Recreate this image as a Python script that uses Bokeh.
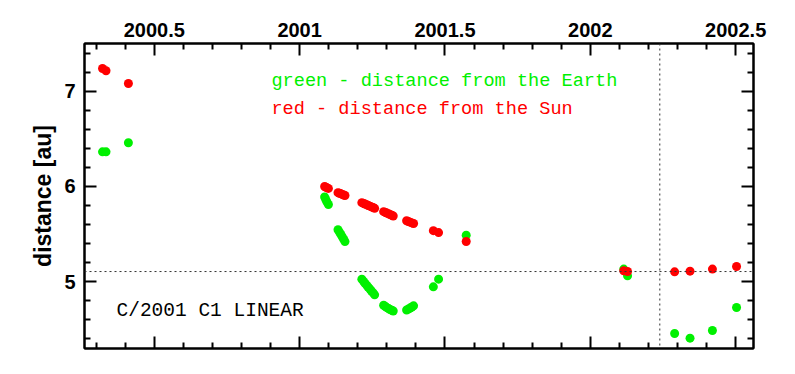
from bokeh.plotting import figure
from bokeh.models import FixedTicker, LinearAxis, Span, Label, Range1d, CustomLabelingPolicy
from bokeh.embed import file_html
from bokeh.resources import INLINE

# ---- data ----
dates = [2000.322, 2000.334, 2000.411,
         2001.086, 2001.090, 2001.094, 2001.099,
         2001.132, 2001.137, 2001.142, 2001.147, 2001.152, 2001.156,
         2001.214, 2001.220, 2001.225, 2001.231, 2001.236, 2001.242, 2001.247, 2001.253, 2001.258,
         2001.289, 2001.295, 2001.300, 2001.306, 2001.311, 2001.317, 2001.322,
         2001.368, 2001.374, 2001.380, 2001.386, 2001.392,
         2001.460, 2001.478,
         2001.573,
         2002.115, 2002.128,
         2002.290, 2002.343, 2002.420, 2002.503]

dist_sun = [7.242, 7.218, 7.084,
            6.000, 5.993, 5.986, 5.980,
            5.935, 5.929, 5.923, 5.917, 5.911, 5.905,
            5.830, 5.822, 5.815, 5.808, 5.800, 5.793, 5.785, 5.778, 5.770,
            5.735, 5.727, 5.720, 5.712, 5.705, 5.697, 5.690,
            5.640, 5.632, 5.625, 5.617, 5.610,
            5.535, 5.515,
            5.421,
            5.113, 5.105,
            5.102, 5.109, 5.131, 5.158]

dist_earth = [6.365, 6.365, 6.460,
              5.890, 5.863, 5.837, 5.810,
              5.545, 5.520, 5.495, 5.468, 5.443, 5.420,
              5.025, 5.002, 4.980, 4.960, 4.940, 4.920, 4.900, 4.880, 4.860,
              4.750, 4.737, 4.725, 4.715, 4.705, 4.697, 4.690,
              4.700, 4.710, 4.720, 4.732, 4.744,
              4.944, 5.025,
              5.488,
              5.131, 5.060,
              4.453, 4.404, 4.484, 4.726]

x_major = [2000.5, 2001.0, 2001.5, 2002.0, 2002.5]
x_major_labels = ["2000.5", "2001", "2001.5", "2002", "2002.5"]
y_major = [5, 6, 7]
y_major_labels = ["5", "6", "7"]

ref_distance = 5.105     # horizontal dotted line
ref_date = 2002.239      # vertical dotted line

title_text = "C/2001 C1 LINEAR"
green_text = "green - distance from the Earth"
red_text = "red - distance from the Sun"

GREEN = "#00f000"
RED = "#ff0000"

# ---- figure ----
x_minor = [round(2000.3 + 0.1 * i, 1) for i in range(23)]
x_minor = [t for t in x_minor if t not in x_major]
y_minor = [round(4.4 + 0.2 * i, 1) for i in range(16)]
y_minor = [t for t in y_minor if t not in y_major]

p = figure(frame_width=669, frame_height=305,
           x_range=Range1d(2000.26, 2002.5613), y_range=Range1d(4.295, 7.505),
           output_backend="svg", toolbar_location=None,
           x_axis_location=None, y_axis_location=None,
           min_border_left=84, min_border_top=43, min_border_right=30, min_border_bottom=20)
p.grid.visible = False
p.outline_line_color = "black"
p.outline_line_width = 2
p.background_fill_color = "white"
p.border_fill_color = "white"

xt = FixedTicker(ticks=x_major, minor_ticks=x_minor)
yt = FixedTicker(ticks=y_major, minor_ticks=y_minor)

def style(ax, ticker, labels):
    ax.ticker = ticker
    ax.axis_line_width = 2
    ax.major_tick_in = 12
    ax.major_tick_out = 0
    ax.minor_tick_in = 6
    ax.minor_tick_out = 0
    ax.major_tick_line_width = 2
    ax.minor_tick_line_width = 2
    ax.major_label_text_font = "Liberation Sans"
    ax.major_label_text_font_style = "bold"
    ax.major_label_text_font_size = "20px"
    ax.major_label_text_color = "black"
    if not labels:
        ax.major_label_policy = CustomLabelingPolicy(code="return []")
        ax.major_label_standoff = 0

ax_top = LinearAxis()
ax_bot = LinearAxis()
ax_left = LinearAxis()
ax_right = LinearAxis()
style(ax_top, xt, True)
style(ax_bot, xt, False)
style(ax_left, yt, True)
style(ax_right, yt, False)
ax_top.major_label_overrides = {t: s for t, s in zip(x_major, x_major_labels)}
ax_left.major_label_overrides = {t: s for t, s in zip(y_major, y_major_labels)}
ax_top.major_label_standoff = 7
ax_left.major_label_standoff = 9
ax_left.axis_label = "distance [au]"
ax_left.axis_label_text_font = "Liberation Sans"
ax_left.axis_label_text_font_style = "bold"
ax_left.axis_label_text_font_size = "23px"
ax_left.axis_label_text_color = "black"
ax_left.axis_label_standoff = 5
p.add_layout(ax_top, "above")
p.add_layout(ax_bot, "below")
p.add_layout(ax_left, "left")
p.add_layout(ax_right, "right")

p.add_layout(Span(location=ref_distance, dimension="width", line_color="#333333",
                  line_width=1, line_dash="2 3"))
p.add_layout(Span(location=ref_date, dimension="height", line_color="#333333",
                  line_width=1, line_dash="2 3"))

p.scatter(dates, dist_earth, size=9, color=GREEN, line_color=None)
p.scatter(dates, dist_sun, size=9, color=RED, line_color=None)

p.add_layout(Label(x=2000.903, y=7.105, text=green_text, text_color=GREEN,
                   text_font="Liberation Mono", text_font_size="18.6px",
                   text_baseline="alphabetic", text_align="left"))
p.add_layout(Label(x=2000.903, y=6.807, text=red_text, text_color=RED,
                   text_font="Liberation Mono", text_font_size="18.6px",
                   text_baseline="alphabetic", text_align="left"))
p.add_layout(Label(x=2000.370, y=4.691, text=title_text, text_color="black",
                   text_font="Liberation Mono", text_font_size="19.5px",
                   text_baseline="alphabetic", text_align="left"))

open("out.html", "w").write(file_html(p, INLINE))
